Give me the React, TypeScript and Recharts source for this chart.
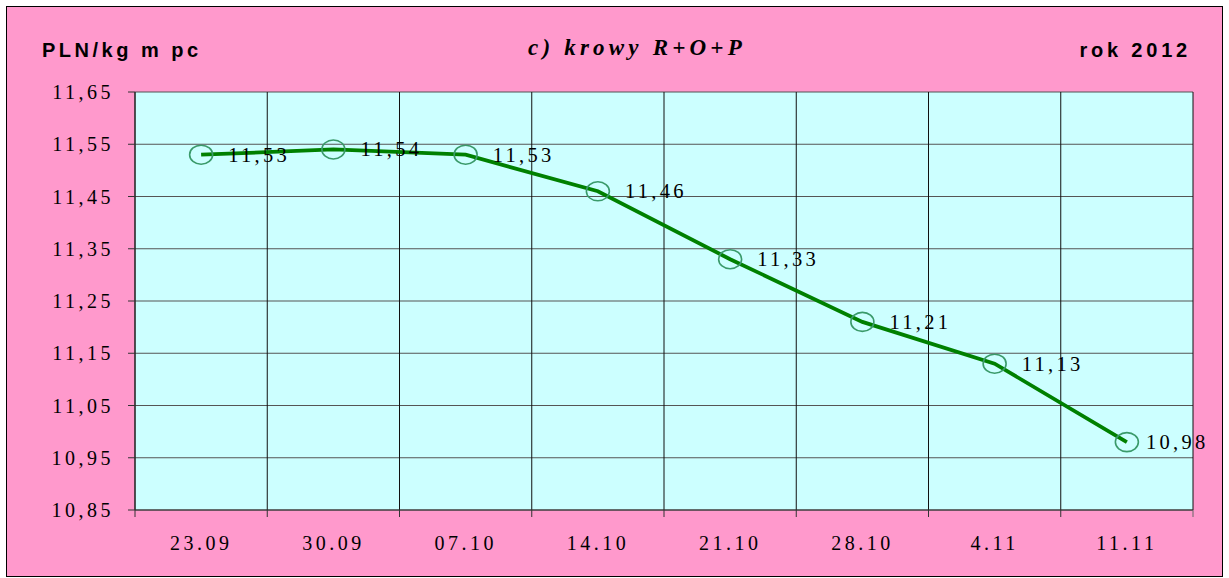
import React from 'react';
import { ComposedChart, Line, XAxis, YAxis, CartesianGrid, LabelList } from 'recharts';

const categories = ['23.09', '30.09', '07.10', '14.10', '21.10', '28.10', '4.11', '11.11'];
const prices = [11.53, 11.54, 11.53, 11.46, 11.33, 11.21, 11.13, 10.98];
const yTicks = [10.85, 10.95, 11.05, 11.15, 11.25, 11.35, 11.45, 11.55, 11.65];
const titleText = 'c) krowy R+O+P';
const unitText = 'PLN/kg m pc';
const yearText = 'rok 2012';

const data = categories.map((c, i) => ({ week: c, price: prices[i] }));

const fmt = (v: number) => v.toFixed(2).replace('.', ',');

const SERIF = '"Liberation Serif", "Times New Roman", serif';
const SANS = '"Liberation Sans", Arial, sans-serif';
const X_TICK_MARGIN = 26;

const Marker = (props: any) => {
  const { cx, cy, index } = props;
  if (cx == null || cy == null) return <g key={index} />;
  return (
    <ellipse key={index} cx={cx} cy={cy} rx={11.5} ry={9.5} fill="none" stroke="#3A9A6A" strokeWidth={1.6} />
  );
};

const renderLabel = (props: any) => {
  const { x, y, value, index } = props;
  const dx = index === prices.length - 1 ? 19 : 27;
  return (
    <text x={x + dx} y={y + 7} fontFamily={SERIF} fontSize={20.5} letterSpacing={3.3} fill="#000">
      {fmt(value)}
    </text>
  );
};

const XTick = (props: any) => {
  const { x, y, payload, index, visibleTicksCount } = props;
  const half = payload && payload.offset ? payload.offset : 0;
  const axisY = y - X_TICK_MARGIN;
  const isLast = index === visibleTicksCount - 1;
  return (
    <g>
      <line x1={x - half} x2={x - half} y1={axisY} y2={axisY + 7} stroke="#333" strokeWidth={1} />
      {isLast && (
        <line x1={x + half} x2={x + half} y1={axisY} y2={axisY + 7} stroke="#666" strokeWidth={1} />
      )}
      <text
        x={x}
        y={y}
        dy="0.71em"
        textAnchor="middle"
        fontFamily={SERIF}
        fontSize={20}
        letterSpacing={3.5}
        fill="#000"
      >
        {payload.value}
      </text>
    </g>
  );
};

const boundaryGenerator = (args: any) => {
  const { offset } = args;
  const n = categories.length;
  const out: number[] = [];
  for (let i = 0; i <= n; i++) out.push(offset.left + (i * offset.width) / n);
  return out;
};

export default function App() {
  return (
    <div style={{ position: 'absolute', left: 0, top: 0, width: 1229, height: 578 }}>
      <div
        style={{
          position: 'absolute',
          left: 6,
          top: 6,
          width: 1217,
          height: 571,
          boxSizing: 'border-box',
          border: '1.5px solid #000',
          background: '#FF99CC',
        }}
      />
      <div style={{ position: 'absolute', left: 0, top: 0 }}>
        <ComposedChart
          width={1229}
          height={578}
          data={data}
          margin={{ top: 92, right: 36, left: 75, bottom: 28 }}
        >
          <CartesianGrid
            vertical={false}
            horizontal
            fill="#CCFFFF"
            fillOpacity={1}
            stroke="#555"
            strokeWidth={1.2}
          />
          <CartesianGrid
            vertical
            horizontal={false}
            verticalCoordinatesGenerator={boundaryGenerator}
            stroke="#111"
            strokeWidth={1}
          />
          <XAxis
            dataKey="week"
            type="category"
            scale="band"
            tickLine={false}
            axisLine={{ stroke: '#333', strokeWidth: 1.2 }}
            tickSize={0}
            tickMargin={X_TICK_MARGIN}
            height={40}
            interval={0}
            tick={<XTick />}
          />
          <YAxis
            type="number"
            domain={[10.85, 11.65]}
            ticks={yTicks}
            tickFormatter={fmt}
            width={60}
            tickSize={7}
            tickMargin={14}
            interval={0}
            axisLine={{ stroke: '#333', strokeWidth: 1.2 }}
            tickLine={{ stroke: '#333' }}
            tick={{ fontFamily: SERIF, fontSize: 20, fill: '#000', letterSpacing: 3.5 }}
            allowDataOverflow
          />
          <Line
            dataKey="price"
            type="linear"
            stroke="#008000"
            strokeWidth={3.8}
            dot={Marker}
            activeDot={false}
            isAnimationActive={false}
          >
            <LabelList dataKey="price" content={renderLabel} />
          </Line>
        </ComposedChart>
      </div>
      <svg
        width={1229}
        height={578}
        style={{ position: 'absolute', left: 0, top: 0, pointerEvents: 'none' }}
      >
        <text x={42} y={57} fontFamily={SANS} fontWeight="bold" fontSize={20} letterSpacing={3.5} fill="#000">
          {unitText}
        </text>
        <text
          x={637}
          y={55}
          textAnchor="middle"
          fontFamily={SERIF}
          fontWeight="bold"
          fontStyle="italic"
          fontSize={23}
          letterSpacing={4.2}
          fill="#000"
        >
          {titleText}
        </text>
        <text
          x={1191}
          y={57}
          textAnchor="end"
          fontFamily={SANS}
          fontWeight="bold"
          fontSize={20}
          letterSpacing={3.8}
          fill="#000"
        >
          {yearText}
        </text>
      </svg>
    </div>
  );
}
